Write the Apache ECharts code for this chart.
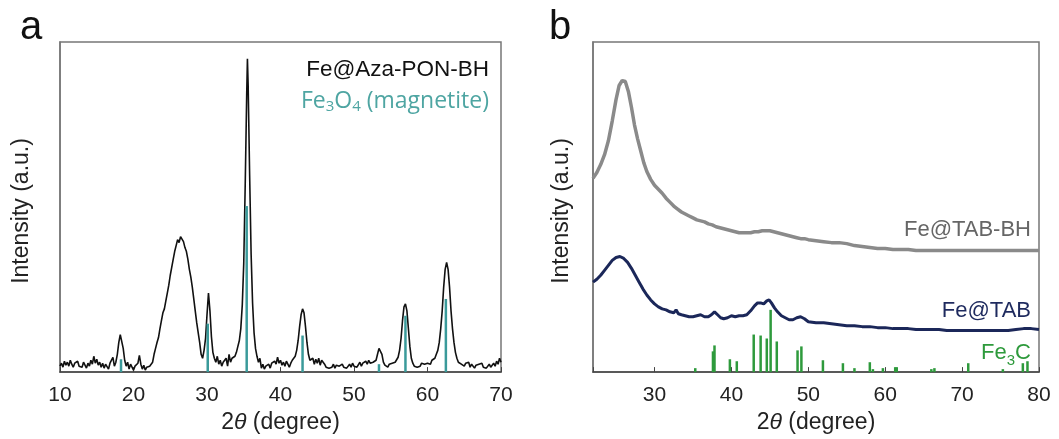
<!DOCTYPE html>
<html>
<head>
<meta charset="utf-8">
<script src="https://cdn.jsdelivr.net/npm/echarts@6/dist/echarts.min.js"></script>
<style>
  html, body { margin: 0; padding: 0; background: #fff; }
  #chart { width: 1059px; height: 439px; }
</style>
</head>
<body>
<div id="chart"></div>
<script>
// panel a: Fe@Aza-PON-BH pattern, [2theta, intensity]
var azaPonBH = [
  [10,6],[10.2,9],[10.4,5],[10.6,11],[10.8,7],[11,10],[11.2,6],[11.4,12],[11.6,8],[11.8,5],
  [12,9],[12.2,7],[12.4,11],[12.6,6],[12.8,8],[13,5],[13.2,10],[13.4,7],[13.6,4],[13.8,9],
  [14,6],[14.2,12],[14.4,8],[14.6,16],[14.8,9],[15,13],[15.2,7],[15.4,10],[15.6,5],[15.8,9],
  [16,4],[16.2,8],[16.4,6],[16.6,3],[16.8,9],[17,7],[17.2,15],[17.4,6],[17.6,10],[17.8,18],
  [18,30],[18.2,38],[18.4,36],[18.6,24],[18.8,12],[19,6],[19.2,10],[19.4,3],[19.6,8],[19.8,5],
  [20,2],[20.2,6],[20.4,4],[20.6,9],[20.8,17],[21,8],[21.2,3],[21.4,7],[21.6,2],[21.8,5],
  [22,3],[22.2,6],[22.4,4],[22.6,10],[22.8,18],[23,24],[23.2,30],[23.4,35],[23.6,44],[23.8,52],
  [24,60],[24.2,64],[24.4,72],[24.6,80],[24.8,88],[25,98],[25.2,106],[25.4,114],[25.6,122],[25.8,128],
  [26,134],[26.2,131],[26.4,137],[26.6,135],[26.8,132],[27,126],[27.2,122],[27.4,114],[27.6,104],[27.8,96],
  [28,86],[28.2,74],[28.4,62],[28.6,50],[28.8,40],[29,30],[29.2,18],[29.4,14],[29.6,22],[29.8,34],
  [30,58],[30.2,80],[30.4,62],[30.6,36],[30.8,20],[31,14],[31.2,10],[31.4,16],[31.6,8],[31.8,12],
  [32,6],[32.2,10],[32.4,8],[32.6,14],[32.8,6],[33,18],[33.2,10],[33.4,14],[33.6,12],[33.8,16],
  [34,20],[34.2,26],[34.4,32],[34.6,44],[34.8,68],[35,110],[35.2,190],[35.4,280],[35.5,317],[35.6,290],
  [35.8,200],[36,120],[36.2,70],[36.4,40],[36.6,24],[36.8,16],[37,10],[37.2,14],[37.4,4],[37.6,8],
  [37.8,3],[38,6],[38.2,5],[38.4,8],[38.6,4],[38.8,9],[39,7],[39.2,11],[39.4,8],[39.6,15],
  [39.8,9],[40,12],[40.2,7],[40.4,10],[40.6,6],[40.8,11],[41,8],[41.2,5],[41.4,9],[41.6,12],
  [41.8,10],[42,16],[42.2,22],[42.4,32],[42.6,46],[42.8,58],[43,64],[43.2,60],[43.4,46],[43.6,30],
  [43.8,18],[44,12],[44.2,10],[44.4,14],[44.6,8],[44.8,13],[45,9],[45.2,14],[45.4,7],[45.6,12],
  [45.8,10],[46,8],[46.2,5],[46.4,7],[46.6,4],[46.8,6],[47,5],[47.2,8],[47.4,4],[47.6,7],
  [47.8,5],[48,6],[48.2,4],[48.4,8],[48.6,5],[48.8,7],[49,4],[49.2,6],[49.4,8],[49.6,5],
  [49.8,9],[50,6],[50.2,8],[50.4,5],[50.6,7],[50.8,10],[51,6],[51.2,9],[51.4,7],[51.6,11],
  [51.8,8],[52,12],[52.2,9],[52.4,7],[52.6,10],[52.8,8],[53,12],[53.2,18],[53.4,24],[53.6,25],
  [53.8,18],[54,10],[54.2,7],[54.4,9],[54.6,5],[54.8,8],[55,6],[55.2,9],[55.4,7],[55.6,10],
  [55.8,12],[56,15],[56.2,22],[56.4,34],[56.6,52],[56.8,66],[57,69],[57.2,62],[57.4,44],[57.6,26],
  [57.8,14],[58,9],[58.2,6],[58.4,8],[58.6,5],[58.8,7],[59,6],[59.2,9],[59.4,7],[59.6,8],
  [59.8,10],[60,9],[60.2,11],[60.4,8],[60.6,12],[60.8,10],[61,14],[61.2,18],[61.4,22],[61.6,30],
  [61.8,44],[62,62],[62.2,86],[62.4,104],[62.6,111],[62.8,104],[63,86],[63.2,62],[63.4,44],[63.6,30],
  [63.8,20],[64,14],[64.2,10],[64.4,12],[64.6,8],[64.8,10],[65,6],[65.2,9],[65.4,7],[65.6,10],
  [65.8,5],[66,8],[66.2,6],[66.4,4],[66.6,7],[66.8,5],[67,8],[67.2,6],[67.4,9],[67.6,5],
  [67.8,7],[68,4],[68.2,6],[68.4,8],[68.6,5],[68.8,7],[69,9],[69.2,6],[69.4,11],[69.6,8],
  [69.8,14],[70,10]
];

// Fe3O4 reference sticks
var magPos = [18.3, 30.1, 35.4, 43.0, 53.4, 57.0, 62.5];
var magInt = [13, 49, 168, 37, 8, 57, 74];

// panel b: Fe@TAB-BH (grey) and Fe@TAB (navy), offset as in the figure
var tabBH = [
  [22,196],[22.5,202],[23,210],[23.5,220],[24,234],[24.5,254],[25,276],[25.4,290],[25.8,295],[26.2,294],
  [26.6,284],[27,268],[27.4,250],[27.8,236],[28.2,224],[28.6,212],[29,203],[29.5,195],[30,189],[30.5,185],
  [31,181],[31.5,176],[32,172],[32.5,168],[33,165],[33.5,162],[34,160],[34.5,158],[35,156],[35.5,154],
  [36,153],[36.5,152],[37,150],[37.5,149],[38,147],[38.5,146],[39,145],[39.5,144],[40,143],[40.5,142],
  [41,141],[41.5,141],[42,141],[42.5,141],[43,142],[43.5,142],[44,143],[44.5,143],[45,143],[45.5,142],
  [46,141],[46.5,140],[47,139],[47.5,138],[48,137],[48.5,136],[49,135],[49.5,135],[50,134],[51,133],
  [52,132],[53,131],[54,131],[55,130],[56,128],[57,127],[58,126],[59,125],[60,125],[61,124],
  [62,124],[63,124],[64,123],[65,123],[66,123],[68,123],[70,123],[72,123],[74,123],[76,123],
  [78,123],[80,123]
];
var tab = [
  [22,91],[22.5,94],[23,98],[23.5,103],[24,108],[24.5,113],[25,116],[25.5,117],[26,115],[26.5,111],
  [27,105],[27.5,98],[28,91],[28.5,84],[29,78],[29.5,73],[30,69],[30.5,66],[31,64],[31.5,63],
  [32,61],[32.5,60],[32.8,63],[33.1,59],[33.5,58],[34,57],[34.5,56],[35,56],[35.5,57],[36,58],
  [36.5,56],[37,56],[37.4,58],[37.8,61],[38.2,58],[38.6,55],[39,54],[39.5,55],[40,57],[40.5,56],
  [41,57],[41.5,57],[42,58],[42.5,62],[43,67],[43.4,70],[43.8,70],[44.2,69],[44.6,72],[44.9,73],
  [45.2,70],[45.6,65],[46,61],[46.5,57],[47,55],[47.5,53],[48,53],[48.5,55],[49,56],[49.5,54],
  [50,51],[51,50],[52,50],[53,49],[54,48],[55,47],[56,47],[57,46],[58,46],[59,45],
  [60,45],[61,44],[62,44],[63,44],[64,43],[65,43],[66,43],[67,43],[68,42],[69,42],
  [70,42],[71,42],[72,42],[73,42],[74,42],[75,42],[76,42],[77,43],[78,44],[79,44],[80,43]
];

// Fe3C reference sticks
var fe3cPos = [35.3, 37.6, 37.8, 39.8, 40.7, 42.9, 43.8, 44.6, 45.1, 45.9, 48.6, 49.1, 51.9,
  54.5, 56.0, 58.0, 58.4, 59.7, 61.3, 61.5, 66.0, 66.4, 70.8, 75.3, 77.9, 78.5];
var fe3cInt = [4, 21, 27, 13, 11, 38, 37, 34, 63, 31, 22, 26, 12,
  9, 4, 10, 3, 4, 5, 5, 3, 4, 9, 3, 9, 11];

function pairs(xs, ys) {
  return xs.map(function (x, i) { return [x, ys[i]]; });
}

var font = 'Liberation Sans, Arial, sans-serif';

function xAxisOf(idx, min, max) {
  return {
    type: 'value', gridIndex: idx, min: min, max: max,
    splitLine: { show: false },
    axisLine: { lineStyle: { color: '#444', width: 1.5 } },
    axisTick: { inside: true, length: 5, lineStyle: { color: '#444' } },
    axisLabel: {
      color: '#222', fontSize: 21, fontFamily: font, margin: 13,
      formatter: function (v) { return v % 10 === 0 ? String(v) : ''; }
    },
    name: '2{i|θ} (degree)',
    nameLocation: 'middle',
    nameGap: 36,
    nameTextStyle: {
      color: '#222', fontSize: 23, fontFamily: font,
      rich: { i: { fontStyle: 'italic', fontSize: 23, fontFamily: font, color: '#222' } }
    }
  };
}

function yAxisOf(idx) {
  return {
    type: 'value', gridIndex: idx, min: 0, max: 334,
    splitLine: { show: false },
    axisLine: { show: true, lineStyle: { color: '#777', width: 1.5 } },
    axisTick: { show: false },
    axisLabel: { show: false }
  };
}

var chart = echarts.init(document.getElementById('chart'));

chart.setOption({
  backgroundColor: '#fff',
  animation: false,
  grid: [
    { left: 60, right: 558, top: 42, bottom: 62, show: true, borderColor: '#777', borderWidth: 1.5 },
    { left: 593, right: 20, top: 42, bottom: 63, show: true, borderColor: '#777', borderWidth: 1.5 }
  ],
  xAxis: [xAxisOf(0, 10, 70), xAxisOf(1, 22, 80)],
  yAxis: [yAxisOf(0), yAxisOf(1)],
  series: [{
    type: 'line', xAxisIndex: 0, yAxisIndex: 0,
    data: azaPonBH, symbol: 'none', z: 2,
    lineStyle: { color: '#111', width: 1.6 }
  }, {
    type: 'bar', xAxisIndex: 0, yAxisIndex: 0,
    data: pairs(magPos, magInt), barWidth: 2.5, z: 3,
    itemStyle: { color: '#3a9a9a' }
  }, {
    type: 'line', xAxisIndex: 1, yAxisIndex: 1,
    data: tabBH, symbol: 'none',
    lineStyle: { color: '#8a8a8a', width: 3.5 }
  }, {
    type: 'bar', xAxisIndex: 1, yAxisIndex: 1,
    data: pairs(fe3cPos, fe3cInt), barWidth: 2.5, z: 1,
    itemStyle: { color: '#2e9a3c' }
  }, {
    type: 'line', xAxisIndex: 1, yAxisIndex: 1,
    data: tab, symbol: 'none', z: 3,
    lineStyle: { color: '#1b2759', width: 3 }
  }],
  graphic: [
    // panel letters
    { type: 'text', left: 20, top: 8, style: { text: 'a', fontSize: 40, fontFamily: font, fill: '#111' } },
    { type: 'text', left: 549, top: 8, style: { text: 'b', fontSize: 40, fontFamily: font, fill: '#111' } },
    // y axis names
    { type: 'text', x: 22, y: 211, rotation: Math.PI / 2,
      style: { text: 'Intensity (a.u.)', fontSize: 23, fontFamily: font, fill: '#222', align: 'center', verticalAlign: 'middle' } },
    { type: 'text', x: 562, y: 211, rotation: Math.PI / 2,
      style: { text: 'Intensity (a.u.)', fontSize: 23, fontFamily: font, fill: '#222', align: 'center', verticalAlign: 'middle' } },
    // panel a labels
    { type: 'text', x: 489, y: 70,
      style: { text: 'Fe@Aza-PON-BH', fontSize: 22.5, fontFamily: font, fill: '#111', align: 'right', verticalAlign: 'middle' } },
    { type: 'text', x: 489, y: 101,
      style: {
        text: 'Fe{s|3}O{s|4} (magnetite)', fontSize: 23, fontFamily: 'Open Sans, sans-serif', fill: '#4ea5a2',
        align: 'right', verticalAlign: 'middle',
        rich: { s: { fontSize: 15, fontFamily: 'Open Sans, sans-serif', fill: '#4ea5a2', padding: [12, 0, 0, 0] } }
      } },
    // panel b labels
    { type: 'text', x: 1031, y: 230,
      style: { text: 'Fe@TAB-BH', fontSize: 22, fontFamily: font, fill: '#666', align: 'right', verticalAlign: 'middle' } },
    { type: 'text', x: 1031, y: 311,
      style: { text: 'Fe@TAB', fontSize: 22, fontFamily: font, fill: '#1e2a5e', align: 'right', verticalAlign: 'middle' } },
    { type: 'text', x: 1031, y: 353,
      style: {
        text: 'Fe{s|3}C', fontSize: 22, fontFamily: font, fill: '#2e9a3c',
        align: 'right', verticalAlign: 'middle',
        rich: { s: { fontSize: 15, fontFamily: font, fill: '#2e9a3c', padding: [16, 0, 0, 0] } }
      } }
  ]
});
</script>
</body>
</html>
